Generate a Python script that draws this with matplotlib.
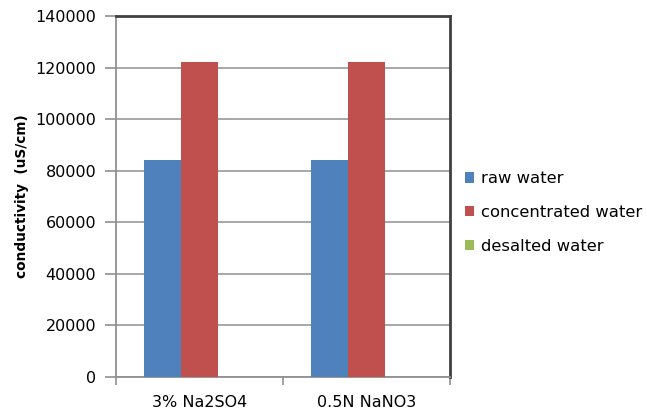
import matplotlib
matplotlib.use('Agg')
import matplotlib.pyplot as plt
import numpy as np

# soluciones ensayadas y conductividades medidas
soluciones = ["3% Na2SO4", "0.5N NaNO3"]
series = ["raw water", "concentrated water", "desalted water"]
raw = [84200, 84200]
concentrada = [122200, 122200]
desalada = [0, 0]
colores = ["#4F81BD", "#C0504D", "#9BBB59"]

fig = plt.figure(figsize=(6.47, 4.15), dpi=100)
ax = fig.add_axes([0.179, 0.0916, 0.5165, 0.8698])

x = np.arange(len(soluciones))
ancho = 0.22
for i, (valores, nombre) in enumerate(zip([raw, concentrada, desalada], series)):
    ax.bar(x + (i - 1) * ancho, valores, ancho, color=colores[i], label=nombre, zorder=3)

# ejes
ax.set_xlim(-0.5, len(soluciones) - 0.5)
ax.set_ylim(0, 140000)
ax.set_yticks(np.arange(0, 140001, 20000))
ax.set_yticklabels([str(v) for v in range(0, 140001, 20000)])
ax.grid(axis='y', color='#a0a0a0', linewidth=1.3, zorder=0)

# marcas del eje x entre categorias, etiquetas centradas
ax.set_xticks(np.arange(-0.5, len(soluciones)), minor=False)
ax.set_xticklabels([])
ax.set_xticks(x, minor=True)
ax.set_xticklabels(soluciones, minor=True, fontsize=11.5)
ax.tick_params(axis='x', which='minor', length=0, pad=13)
ax.tick_params(axis='x', which='major', length=6, color='#909090', width=1.2)
ax.tick_params(axis='y', length=8, color='#909090', width=1.2, pad=6, labelsize=11.5)

for lado in ['left', 'bottom']:
    ax.spines[lado].set_color('#909090')
    ax.spines[lado].set_linewidth(1.3)
for lado in ['top', 'right']:
    ax.spines[lado].set_color('#404040')
    ax.spines[lado].set_linewidth(2)

ax.set_ylabel("conductivity  (uS/cm)", fontsize=9.8, fontweight='bold', labelpad=5)

fig.legend(loc='center left', bbox_to_anchor=(0.718, 0.488), frameon=False,
           fontsize=11.8, handlelength=0.6, handleheight=0.6, handletextpad=0.4,
           labelspacing=1.15, borderpad=0, borderaxespad=0)

fig.savefig("out.png", dpi=100)
